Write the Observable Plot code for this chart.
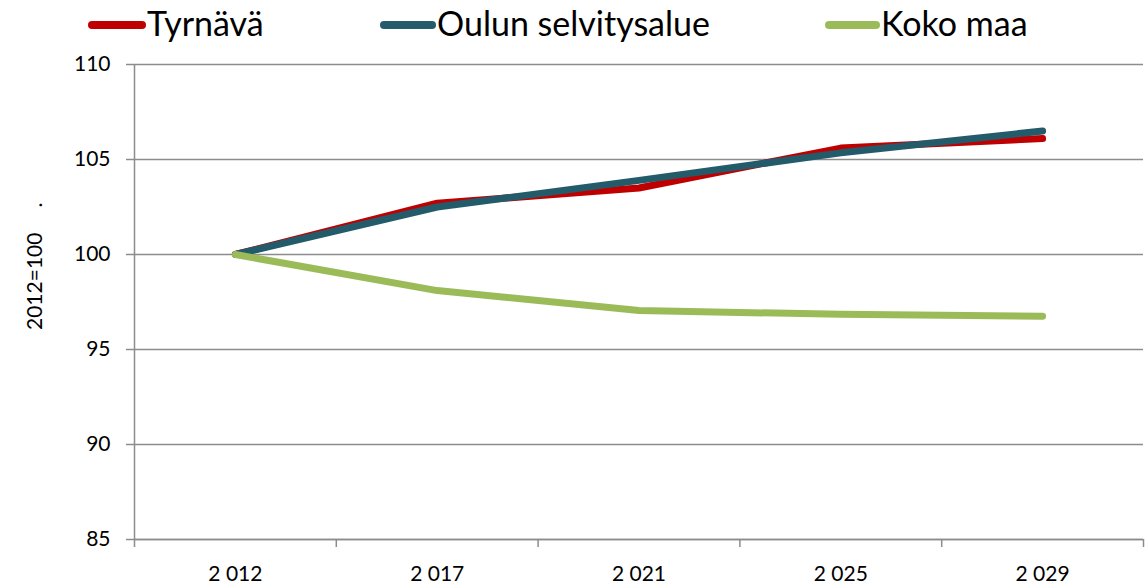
<!DOCTYPE html>
<html>
<head>
<meta charset="utf-8">
<script src="https://cdn.jsdelivr.net/npm/d3@7"></script>
<script src="https://cdn.jsdelivr.net/npm/@observablehq/plot@0.6"></script>
<style>
  html, body { margin: 0; padding: 0; background: #fff; }
  #legend { position: relative; width: 1146px; height: 50px; font-family: Lato, "Open Sans", sans-serif; font-size: 34px; color: #000; }
  .sw { position: absolute; top: 21px; height: 8px; border-radius: 4px; }
  .lb { position: absolute; top: 3px; line-height: 40px; }
  #chart svg { display: block; }
</style>
</head>
<body>
<div id="legend"></div>
<div id="chart"></div>
<script>
const years = ["2 012", "2 017", "2 021", "2 025", "2 029"];
const seriesNames = ["Tyrnävä", "Oulun selvitysalue", "Koko maa"];
const tyrnava = [100, 102.7, 103.5, 105.6, 106.1];
const oulu = [100, 102.5, 103.9, 105.35, 106.5];
const kokoMaa = [100, 98.1, 97.05, 96.85, 96.75];
const yTicks = [85, 90, 95, 100, 105, 110];
const colors = ["#C00000", "#235B6B", "#9BBB59"];

// legend
const legendPos = [[88, 146], [380, 436], [825, 880]];
const leg = document.getElementById("legend");
seriesNames.forEach((n, i) => {
  const sw = document.createElement("div");
  sw.className = "sw";
  sw.style.left = legendPos[i][0] + "px";
  sw.style.width = (legendPos[i][1] - legendPos[i][0]) + "px";
  sw.style.background = colors[i];
  leg.appendChild(sw);
  const lb = document.createElement("div");
  lb.className = "lb";
  lb.style.left = (legendPos[i][1] + 1) + "px";
  lb.textContent = n;
  leg.appendChild(lb);
});

const series = [tyrnava, oulu, kokoMaa];
const idx = years.map((_, i) => i);

const chart = Plot.plot({
  width: 1146,
  height: 537,
  marginLeft: 134,
  marginRight: 3,
  marginTop: 14,
  marginBottom: 48,
  style: { fontFamily: "Lato, 'Open Sans', sans-serif", fontSize: "21px", color: "#000", background: "#fff" },
  x: { type: "linear", domain: [0, years.length], axis: null },
  y: { domain: [85, 110], axis: null },
  marks: [
    Plot.gridY(yTicks, { stroke: "#8c8c8c", strokeOpacity: 1, strokeWidth: 1.5 }),
    Plot.axisY(yTicks, { tickSize: 8, tickPadding: 16, stroke: "#8c8c8c", strokeWidth: 1.5, label: null, fill: "#000" }),
    Plot.axisX(d3.range(years.length + 1), { tickSize: 8, tickFormat: () => "", stroke: "#8c8c8c", strokeWidth: 1.5, label: null }),
    Plot.axisX(idx.map(i => i + 0.5), { tickSize: 0, tickPadding: 27, tickFormat: v => years[Math.round(v - 0.5)], label: null, fill: "#000" }),
    Plot.ruleX([0], { stroke: "#8c8c8c", strokeWidth: 1.5 }),
    Plot.ruleY([85], { stroke: "#8c8c8c", strokeWidth: 1.5 }),
    ...series.map((s, k) => Plot.lineY(s, {
      x: (d, i) => i + 0.5,
      y: d => d,
      stroke: colors[k],
      strokeWidth: 7,
      strokeLinecap: "round",
      strokeLinejoin: "round"
    })),
    Plot.text(["2012=100"], { frameAnchor: "left", dx: -99, dy: 28, rotate: -90, text: d => d, fill: "#000" }),
    Plot.text(["."], { x: () => 0, y: () => 102.6, dx: -99, rotate: -90, text: d => d, fill: "#000" })
  ]
});
document.getElementById("chart").appendChild(chart);
</script>
</body>
</html>
